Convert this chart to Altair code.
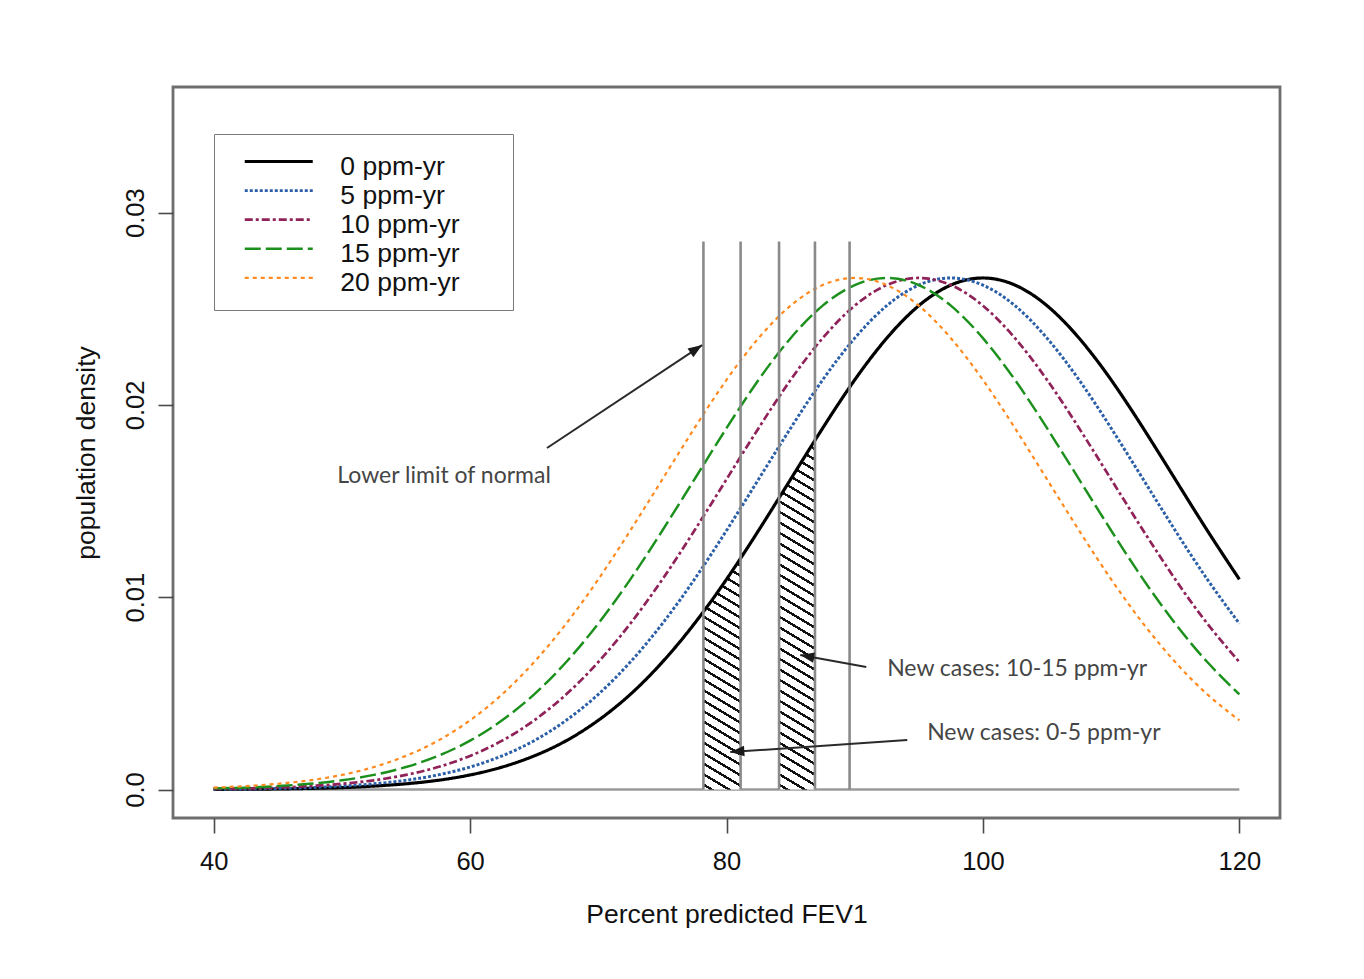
import math
import altair as alt
import pandas as pd

# ---------------- data ----------------
x_grid = [40.0, 42.5, 45.0, 47.5, 50.0, 52.5, 55.0, 57.5, 60.0, 62.5, 65.0,
          67.5, 70.0, 72.5, 75.0, 77.5, 80.0, 82.5, 85.0, 87.5, 90.0, 92.5,
          95.0, 97.5, 100.0, 102.5, 105.0, 107.5, 110.0, 112.5, 115.0, 117.5, 120.0]

dens_0 = [0.00001, 0.00002, 0.00003, 0.00006, 0.00010, 0.00018, 0.00030, 0.00048,
          0.00076, 0.00117, 0.00175, 0.00254, 0.00360, 0.00495, 0.00663, 0.00863,
          0.01093, 0.01347, 0.01613, 0.01879, 0.02130, 0.02347, 0.02516, 0.02623,
          0.02660, 0.02623, 0.02516, 0.02347, 0.02130, 0.01879, 0.01613, 0.01347, 0.01093]
dens_5 = [0.00002, 0.00003, 0.00006, 0.00010, 0.00018, 0.00030, 0.00048, 0.00076,
          0.00117, 0.00175, 0.00254, 0.00360, 0.00495, 0.00663, 0.00863, 0.01093,
          0.01347, 0.01613, 0.01879, 0.02130, 0.02347, 0.02516, 0.02623, 0.02660,
          0.02623, 0.02516, 0.02347, 0.02130, 0.01879, 0.01613, 0.01347, 0.01093, 0.00863]
dens_10 = [0.00003, 0.00006, 0.00010, 0.00018, 0.00030, 0.00048, 0.00076, 0.00117,
           0.00175, 0.00254, 0.00360, 0.00495, 0.00663, 0.00863, 0.01093, 0.01347,
           0.01613, 0.01879, 0.02130, 0.02347, 0.02516, 0.02623, 0.02660, 0.02623,
           0.02516, 0.02347, 0.02130, 0.01879, 0.01613, 0.01347, 0.01093, 0.00863, 0.00663]
dens_15 = [0.00006, 0.00010, 0.00018, 0.00030, 0.00048, 0.00076, 0.00117, 0.00175,
           0.00254, 0.00360, 0.00495, 0.00663, 0.00863, 0.01093, 0.01347, 0.01613,
           0.01879, 0.02130, 0.02347, 0.02516, 0.02623, 0.02660, 0.02623, 0.02516,
           0.02347, 0.02130, 0.01879, 0.01613, 0.01347, 0.01093, 0.00863, 0.00663, 0.00495]
dens_20 = [0.00010, 0.00018, 0.00030, 0.00048, 0.00076, 0.00117, 0.00175, 0.00254,
           0.00360, 0.00495, 0.00663, 0.00863, 0.01093, 0.01347, 0.01613, 0.01879,
           0.02130, 0.02347, 0.02516, 0.02623, 0.02660, 0.02623, 0.02516, 0.02347,
           0.02130, 0.01879, 0.01613, 0.01347, 0.01093, 0.00863, 0.00663, 0.00495, 0.00360]

series_labels = ["0 ppm-yr", "5 ppm-yr", "10 ppm-yr", "15 ppm-yr", "20 ppm-yr"]
series_values = [dens_0, dens_5, dens_10, dens_15, dens_20]

lln_x = [78.2, 81.1, 84.1, 86.9, 89.6]      # vertical "lower limit of normal" lines
lln_top = 0.0285

hatch1_x = [78.2, 79.65, 81.1]              # new cases 0-5 ppm-yr
hatch1_y = [0.00925, 0.01060, 0.01202]
hatch2_x = [84.1, 85.5, 86.9]               # new cases 10-15 ppm-yr
hatch2_y = [0.01517, 0.01667, 0.01816]

base_x = [40, 120]

arrow_x0 = [66.0, 90.9, 94.1]
arrow_y0 = [0.01776, 0.00637, 0.00257]
arrow_x1 = [78.1, 85.75, 80.3]
arrow_y1 = [0.02311, 0.00699, 0.00195]

note_text = ["Lower limit of normal", "New cases: 10-15 ppm-yr", "New cases: 0-5 ppm-yr"]
note_x = [49.65, 92.53, 95.65]
note_y = [0.01630, 0.00627, 0.00294]

x_ticks = [40, 60, 80, 100, 120]
y_ticks = [0, 0.01, 0.02, 0.03]

# ---------------- layout / styles ----------------
W, H = 1107, 731
X_DOM = [36.83, 123.17]
Y_DOM = [-0.00148, 0.03653]
PX_X = W / (X_DOM[1] - X_DOM[0])
PX_Y = H / (Y_DOM[1] - Y_DOM[0])

colors = ["#000000", "#2b5fa8", "#8f2259", "#1c901c", "#ff8a1f"]
dashes = [[1, 0], [3, 2], [8, 3, 3, 3], [16, 5], [4, 4]]
widths = [3.2, 2.2, 2.6, 3.0, 2.6]

FONT = "Liberation Sans"

for s in series_values:
    assert len(s) == len(x_grid)

curves = pd.DataFrame(
    [{"x": x, "y": v, "series": lab}
     for lab, vals in zip(series_labels, series_values)
     for x, v in zip(x_grid, vals)]
)

x_scale = alt.Scale(domain=X_DOM, nice=False, zero=False)
y_scale = alt.Scale(domain=Y_DOM, nice=False, zero=False)
x_axis = alt.Axis(values=x_ticks, format="d", labelPadding=16,
                  titleX=W / 2, titleY=96, titleBaseline="middle", titleAlign="center")
y_axis = alt.Axis(values=y_ticks, labelAngle=270, labelAlign="center",
                  labelBaseline="alphabetic", labelPadding=15,
                  labelExpr="datum.value == 0 ? '0.0' : format(datum.value, '.2f')",
                  titleX=-86.7, titleY=H / 2, titleAngle=270,
                  titleBaseline="middle", titleAlign="center")
XT = "Percent predicted FEV1"
YT = "population density"


def X(field):
    return alt.X(field, type="quantitative", scale=x_scale, axis=x_axis, title=XT)


def Y(field):
    return alt.Y(field, type="quantitative", scale=y_scale, axis=y_axis, title=YT)


# blank (non-whitespace) filler widens the legend box to the reference width
filler = "\u2800" * 2
legend = alt.Legend(
    title="\u2800", titleFontSize=5, titlePadding=1.6,
    orient="none", legendX=41, legendY=47,
    padding=12.65, strokeColor="#7a7a7a", fillColor="white",
    symbolType="M-3.4,-0.5L3.4,-0.5", symbolSize=400, symbolStrokeWidth=3,
    symbolOffset=38.85, labelOffset=48.35, labelLimit=400,
    labelFont=FONT, labelFontSize=26.5, labelColor="#111111",
    labelBaseline="middle", rowPadding=2.1,
    labelExpr="datum.label + '" + filler + "'",
)

lines = alt.Chart(curves).mark_line(interpolate="natural", strokeCap="butt").encode(
    x=X("x"), y=Y("y"),
    color=alt.Color("series:N", scale=alt.Scale(domain=series_labels, range=colors),
                    legend=legend, title=None),
    strokeDash=alt.StrokeDash("series:N", scale=alt.Scale(domain=series_labels, range=dashes),
                              legend=legend, title=None),
    strokeWidth=alt.StrokeWidth("series:N", scale=alt.Scale(domain=series_labels, range=widths),
                                legend=None),
)


def hatch_gradient(w_px, h_px, slope=0.6, vgap=10.5, lw=2.4, phase=3.0):
    a = slope * w_px / h_px
    lam = (a + 1) / (a * a + 1)
    x2, y2 = lam * a, 1 - lam
    L = (w_px * slope + h_px) / math.sqrt(1 + slope ** 2)
    p = vgap / math.sqrt(1 + slope ** 2)
    stops = [{"offset": 0, "color": "white"}]
    k = 0
    while True:
        t0 = (phase + k * p) / L
        t1 = t0 + lw / L
        if t0 >= 1:
            break
        t1 = min(t1, 1)
        stops += [{"offset": t0, "color": "white"}, {"offset": t0, "color": "#111111"},
                  {"offset": t1, "color": "#111111"}, {"offset": t1, "color": "white"}]
        k += 1
    stops.append({"offset": 1, "color": "white"})
    return {"gradient": "linear", "x1": 0, "y1": 1, "x2": x2, "y2": y2, "stops": stops}


hatch_layers = []
for hx, hy in [(hatch1_x, hatch1_y), (hatch2_x, hatch2_y)]:
    df = pd.DataFrame({"x": hx, "y": hy, "y0": [0] * len(hx)})
    grad = hatch_gradient((max(hx) - min(hx)) * PX_X, max(hy) * PX_Y)
    hatch_layers.append(
        alt.Chart(df).mark_area(fill=grad, strokeWidth=0).encode(
            x=X("x"), y=Y("y"), y2=alt.Y2("y0")
        )
    )

lln_df = pd.DataFrame({"x": lln_x, "y": [0] * len(lln_x), "y2": [lln_top] * len(lln_x)})
lln = alt.Chart(lln_df).mark_rule(color="#8a8a8a", strokeWidth=2.6).encode(
    x=X("x"), y=Y("y"), y2=alt.Y2("y2")
)

base_df = pd.DataFrame({"x": [base_x[0]], "x2": [base_x[1]], "y": [0]})
base = alt.Chart(base_df).mark_rule(color="#9a9a9a", strokeWidth=2.4).encode(
    x=X("x"), x2=alt.X2("x2"), y=Y("y")
)

arr_df = pd.DataFrame({"x": arrow_x0, "y": arrow_y0, "x2": arrow_x1, "y2": arrow_y1})
arr_df["ang"] = [
    math.degrees(math.atan2(-(y1 - y0) * PX_Y, (x1 - x0) * PX_X)) % 360
    for x0, y0, x1, y1 in zip(arrow_x0, arrow_y0, arrow_x1, arrow_y1)
]
shafts = alt.Chart(arr_df).mark_rule(color="#2a2a2a", strokeWidth=2).encode(
    x=X("x"), y=Y("y"), x2=alt.X2("x2"), y2=alt.Y2("y2")
)
heads = alt.Chart(arr_df).mark_point(
    shape="M0,0L-2,-0.75L-2,0.75Z", filled=True, size=196, color="#1a1a1a", opacity=1
).encode(x=X("x2"), y=Y("y2"), angle=alt.Angle("ang:Q", scale=None))

notes_df = pd.DataFrame({"x": note_x, "y": note_y, "t": note_text})
notes = alt.Chart(notes_df).mark_text(
    align="left", baseline="middle", font="Lato", fontSize=23, color="#454545"
).encode(x=X("x"), y=Y("y"), text="t:N")

chart = alt.layer(
    base, *hatch_layers, lines, lln, shafts, heads, notes
).properties(
    width=W, height=H,
    autosize=alt.AutoSizeParams(type="none"),
    padding={"left": 165, "top": 79, "right": 76, "bottom": 153},
    background="white",
).configure_view(
    stroke="#6e6e6e", strokeWidth=2.8
).configure_axis(
    grid=False, domain=False, ticks=True, tickSize=15, tickWidth=1.6, tickColor="#4a4a4a",
    labelFont=FONT, labelFontSize=25.5, labelColor="#111111",
    titleFont=FONT, titleFontSize=26.5, titleFontWeight="normal", titleColor="#111111",
)

chart.save("out.html", embed_options={"renderer": "svg", "actions": False})
